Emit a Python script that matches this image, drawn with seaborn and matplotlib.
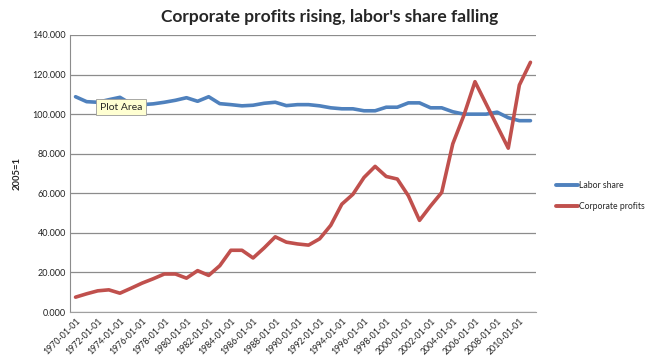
import numpy as np
import pandas as pd
import seaborn as sns
from matplotlib import pyplot as plt

years = list(range(1970, 2012))
labor_share = [108.8, 106.3, 106.0, 107.3, 108.5, 105.2, 104.8, 105.2, 106.0, 107.0,
               108.3, 106.5, 108.8, 105.3, 104.8, 104.2, 104.5, 105.5, 106.0, 104.3,
               104.8, 104.8, 104.2, 103.2, 102.7, 102.7, 101.7, 101.7, 103.5, 103.5,
               105.7, 105.7, 103.2, 103.2, 101.2, 100.0, 100.0, 100.0, 101.0, 98.2,
               96.7, 96.7]
corp_profits = [7.5, 9.2, 10.7, 11.2, 9.5, 12.0, 14.6, 16.8, 19.2, 19.2,
                17.1, 20.9, 18.5, 23.4, 31.2, 31.2, 27.3, 32.4, 38.0, 35.3,
                34.4, 33.8, 37.0, 43.8, 54.5, 59.5, 68.0, 73.6, 68.5, 67.2,
                58.7, 46.3, 53.6, 60.4, 85.0, 99.4, 116.4, 105.2, 94.0, 82.8,
                114.7, 126.2]
series_names = ["Labor share", "Corporate profits"]
yticks = [0, 20, 40, 60, 80, 100, 120, 140]

df = pd.DataFrame({
    "idx": list(range(len(years))) * 2,
    "value": labor_share + corp_profits,
    "series": [series_names[0]] * len(years) + [series_names[1]] * len(years),
})

sns.set_style("white")
plt.rcParams["font.family"] = ["Lato", "DejaVu Sans"]

fig = plt.figure(figsize=(6.52, 3.63), dpi=100)
ax = fig.add_axes((70 / 652, 1 - 312 / 363, 466 / 652, 277 / 363))

sns.lineplot(data=df, x="idx", y="value", hue="series",
             palette=["#4F81BD", "#C0504D"], linewidth=2.6, ax=ax, legend=False)

ax.set_xlim(-0.5, len(years) - 0.5)
ax.set_ylim(0, 140)
ax.set_yticks(yticks)
ax.set_yticklabels([f"{v:.3f}" for v in yticks], fontsize=6.5, color="#222222")
ax.yaxis.grid(True, color="#8c8c8c", linewidth=0.9)
ax.set_axisbelow(True)

xt = list(range(0, len(years), 2))
ax.set_xticks(xt)
ax.set_xticklabels([f"{years[i]}-01-01" for i in xt], rotation=45, ha="right",
                   rotation_mode="anchor", fontsize=6.3, color="#222222")
ax.tick_params(axis="both", length=0, pad=3)

for s in ["top", "right"]:
    ax.spines[s].set_visible(False)
ax.spines["left"].set_color("#8c8c8c")
ax.spines["bottom"].set_color("#a0a0a0")

ax.set_xlabel("")
ax.set_ylabel("2005=1", fontsize=6.8, fontweight="bold", labelpad=8)

fig.text(0.505, 0.952, "Corporate profits rising, labor's share falling",
         ha="center", va="center", fontsize=12.5, fontweight="bold")

ax.text(2.2, 103.5, "Plot Area", fontsize=7.5, ha="left", va="center",
        bbox=dict(boxstyle="square,pad=0.35", facecolor="#ffffd2", edgecolor="#9a9a9a", linewidth=0.6))

handles = [plt.Line2D([], [], color=c, linewidth=2.8) for c in ["#4F81BD", "#C0504D"]]
fig.legend(handles, series_names, loc="center left", bbox_to_anchor=(548 / 652, 1 - 196 / 363),
           frameon=False, fontsize=6.2, handlelength=2.6, handletextpad=0.1, labelspacing=1.4)

plt.savefig("out.png", dpi=100)
